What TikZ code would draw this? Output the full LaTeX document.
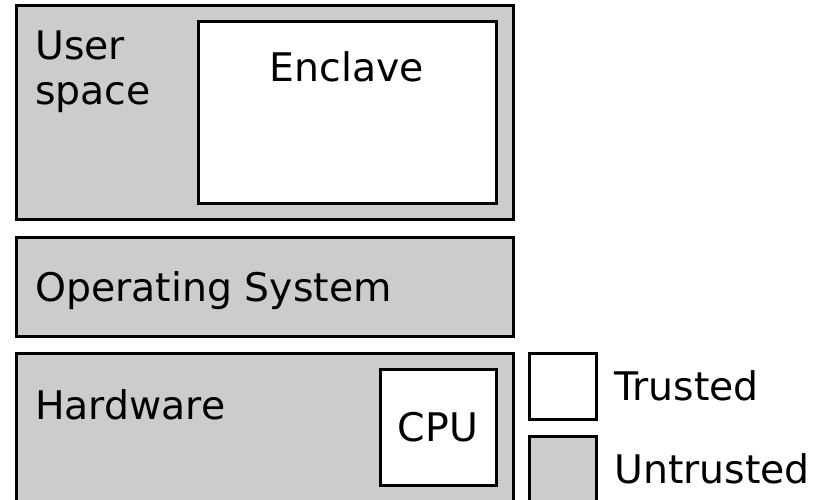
\documentclass[tikz,border=0pt]{standalone}
\usepackage{fontspec}
\setmainfont{DejaVu Sans}
\begin{document}
\begin{tikzpicture}[x=1pt,y=-1pt,
  layer/.style={draw=black,fill=untrustedgray,line width=3pt},
  safe/.style={draw=black,fill=white,line width=3pt},
  lbl/.style={inner sep=0pt,anchor=base west,font=\fontsize{39.4}{46}\selectfont},
  clbl/.style={inner sep=0pt,anchor=base,font=\fontsize{39.4}{46}\selectfont}]
\definecolor{untrustedgray}{HTML}{CCCCCC}
\useasboundingbox (0,0) rectangle (825,500);
\begin{scope}
\clip (0,0) rectangle (825,500);
% software/hardware stack
\draw[layer] (16,5.5) rectangle (513,219.5);
\draw[safe] (198.5,22) rectangle (496,203.5);
\draw[layer] (16,237) rectangle (513,336);
\draw[layer] (16,353) rectangle (513,520);
\draw[safe] (380,369) rectangle (496.5,485);
% legend
\draw[safe] (529,353) rectangle (596,419);
\draw[layer] (529,436) rectangle (596,520);
\end{scope}
\node[lbl] (user) at (35,59.5) {User};
\node[lbl] (space) at (35,104.5) {space};
\node[clbl] (enclave) at (347,82) {Enclave};
\node[lbl] (os) at (35,301) {Operating System};
\node[lbl] (hw) at (35,419) {Hardware};
\node[clbl] (cpu) at (438,441) {CPU};
\node[lbl] (trusted) at (614,400) {Trusted};
\node[lbl] (untrusted) at (614,483) {Untrusted};
\end{tikzpicture}
\end{document}
